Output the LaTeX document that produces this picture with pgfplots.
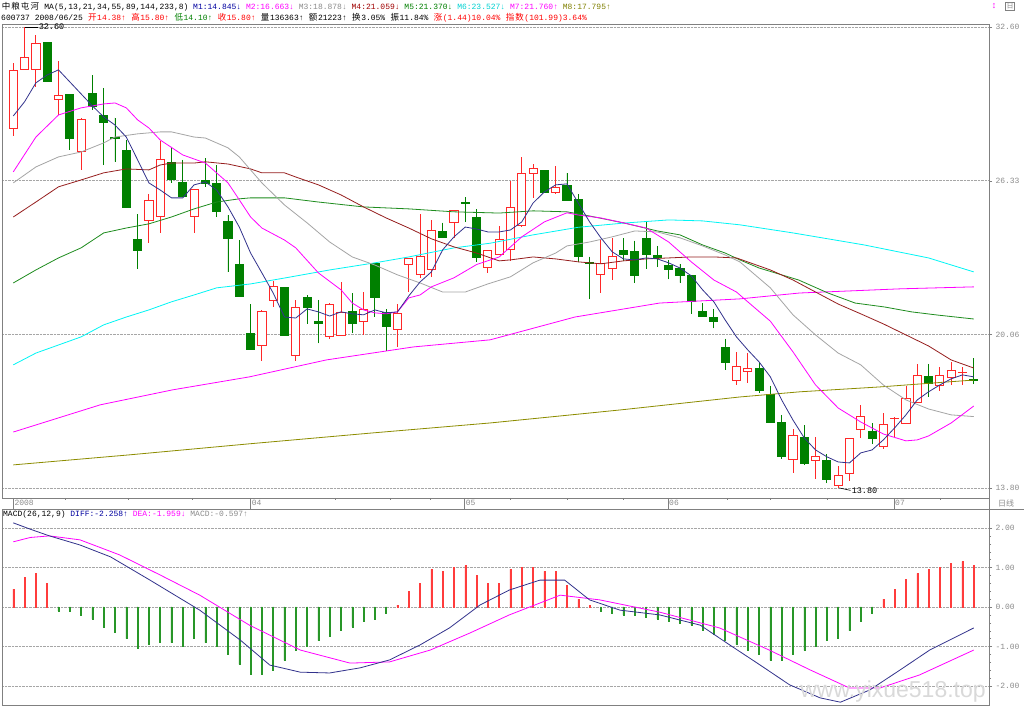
\documentclass[border=0pt]{standalone}
\usepackage{pgfplots}
\pgfplotsset{compat=1.18}
\usepgfplotslibrary{statistics}
\usepackage{pgfplotstable}
\usepackage{fontspec}
\setmainfont{Liberation Sans}
\newfontfamily\cjk{Noto Sans CJK SC}
\newfontfamily\mono{Liberation Mono}
\definecolor{cred}{RGB}{255,40,40}
\definecolor{cgreen}{RGB}{0,128,0}
\definecolor{ma1}{RGB}{50,50,140}
\definecolor{ma2}{RGB}{255,0,255}
\definecolor{ma3}{RGB}{165,165,165}
\definecolor{ma4}{RGB}{150,30,30}
\definecolor{ma5}{RGB}{30,140,30}
\definecolor{ma6}{RGB}{0,245,245}
\definecolor{ma7}{RGB}{255,0,255}
\definecolor{ma8}{RGB}{140,140,0}
\definecolor{tnavy}{RGB}{0,0,160}
\definecolor{tmaroon}{RGB}{160,0,0}
\definecolor{tgreen}{RGB}{0,128,0}
\definecolor{tcyan}{RGB}{0,210,210}
\definecolor{tolive}{RGB}{128,128,0}
\definecolor{tgray}{RGB}{140,140,140}
\definecolor{framegray}{RGB}{128,128,128}
\definecolor{barred}{RGB}{255,60,60}
\definecolor{bargreen}{RGB}{40,150,40}
\newcommand\cu[5]{\addplot[draw=cred, fill=white, line width=0.9pt, boxplot prepared={draw direction=y, draw position=#1, lower whisker=#4, lower quartile=#2, median=#2, upper quartile=#5, upper whisker=#3, box extend=0.72, whisker extend=0}] coordinates {};}
\newcommand\cd[5]{\addplot[draw=cgreen, fill=cgreen, line width=0.9pt, boxplot prepared={draw direction=y, draw position=#1, lower whisker=#4, lower quartile=#5, median=#5, upper quartile=#2, upper whisker=#3, box extend=0.72, whisker extend=0}] coordinates {};}
\newcommand\hf{\mono\fontsize{8}{9}\selectfont}
\newcommand\cj[1]{\makebox[9.6pt]{\cjk\fontsize{8.5}{9}\selectfont #1}}

\pgfplotstableread{
k v
1 28.97
2 29.55
3 30.32
4 30.64
5 30.85
6 30.36
7 29.87
8 29.38
9 28.93
10 28.60
11 28.11
12 27.18
13 26.24
14 25.95
15 25.63
16 25.63
17 26.16
18 26.28
19 25.95
20 25.26
21 24.44
22 23.38
23 22.57
24 21.75
25 20.77
26 20.73
27 21.10
28 20.98
29 20.81
30 20.98
31 20.90
32 20.86
33 21.06
34 20.94
35 20.98
36 21.63
37 22.20
38 22.61
39 23.51
40 24.04
41 24.44
42 24.36
43 24.24
44 24.24
45 24.32
46 24.65
47 25.42
48 25.87
49 26.16
50 26.20
51 25.42
52 24.65
53 24.00
54 23.43
55 23.14
56 23.10
57 23.18
58 23.14
59 22.98
60 22.77
61 22.45
62 21.88
63 21.39
64 20.65
65 19.96
66 19.43
67 18.94
68 18.33
69 17.39
70 16.57
71 15.84
72 15.35
73 15.07
74 14.86
75 14.82
76 15.23
77 15.35
78 15.76
79 16.25
80 16.78
81 17.39
82 17.72
83 18.00
84 18.25
85 18.41
86 18.33
}\maA
\pgfplotstableread{
k v
1 26.69
3 28.11
5 29.01
7 29.30
9 29.46
10 29.50
11 29.30
12 28.81
13 28.48
14 27.99
16 27.38
18 27.05
20 26.24
21 25.55
22 24.85
23 24.40
25 23.91
26 23.59
28 22.57
30 21.88
31 21.34
32 21.06
33 20.94
34 20.90
35 20.98
36 21.55
37 21.67
38 22.00
40 22.37
42 22.91
44 23.22
46 24.04
48 24.65
50 25.02
51 24.93
53 24.81
55 24.61
57 24.40
59 23.83
61 23.02
63 22.28
65 21.79
66 21.39
68 20.60
70 19.35
72 18.00
74 17.06
76 16.49
78 16.00
80 15.72
81 15.76
82 15.92
84 16.45
86 17.14
}\maB
\pgfplotstableread{
k v
1 26.24
3 26.89
5 27.30
7 27.50
9 27.87
10 28.11
12 28.24
14 28.32
15 28.32
17 28.11
18 28.07
20 27.67
21 27.30
22 26.77
23 26.24
25 25.34
27 24.61
29 23.83
31 23.22
33 22.89
35 22.49
37 22.16
39 21.79
41 21.79
43 22.12
45 22.41
47 22.98
49 23.38
50 23.67
52 23.83
54 24.04
56 24.28
58 24.24
60 24.00
62 23.67
64 23.30
65.3 23.02
68 21.96
70 20.86
72 20.04
74 19.30
76 18.82
78 18.00
80 17.39
82 17.02
84 16.78
86 16.71
}\maC
\pgfplotstableread{
k v
1 24.85
3 25.46
5 26.08
7 26.36
9 26.65
11 26.81
13 26.77
14 26.97
15 27.05
17 27.05
18 27.10
20 27.01
22 26.81
23 26.65
25 26.65
26 26.48
28 26.16
30 25.75
32 25.26
34 24.81
36 24.40
38 23.96
40 23.63
42 23.38
44 23.06
45 23.10
47 23.22
49 23.14
51 23.02
53 22.94
55 23.06
57 23.14
59 23.18
61 23.22
63 23.22
65 23.18
68 22.69
70 22.28
72 21.79
74 21.30
76 20.90
78 20.49
80 20.04
82 19.59
84 19.02
86 18.69
}\maD
\pgfplotstableread{
k v
1 22.16
3 22.69
5 23.18
7 23.59
9 24.20
11 24.40
13 24.57
15 24.85
17 25.18
19 25.46
21 25.59
22 25.63
25 25.63
28 25.46
32 25.26
36 25.18
40 25.06
44 25.01
47 25.10
50 25.06
52 24.89
55 24.61
58 24.28
60 24.12
62 23.71
64 23.38
65.3 23.10
67 22.77
70.5 22.28
73.1 21.75
75.5 21.34
78.1 21.18
80.5 20.98
82.8 20.85
86 20.69
}\maE
\pgfplotstableread{
k v
1 18.82
3 19.30
5 19.63
7 19.96
9 20.45
11 20.77
13 21.06
15 21.39
17 21.67
19 21.96
22 22.12
25 22.36
29 22.69
33 22.98
36 23.22
40 23.59
43.2 23.78
47 24.12
51 24.43
55 24.60
59 24.73
62 24.69
65.3 24.53
70 24.20
76.3 23.71
82 23.18
86 22.61
}\maF
\pgfplotstableread{
k v
1 16.08
8.7 17.19
15.1 17.80
21.9 18.33
28.7 19.02
36.4 19.55
43.2 19.84
50.7 20.77
58.2 21.34
65.3 21.51
70.6 21.75
79.5 21.92
86 22.00
}\maG
\pgfplotstableread{
k v
1 14.74
11.3 15.15
21.9 15.60
32.7 16.04
43.2 16.45
54.7 16.98
65.3 17.51
70.6 17.72
77.7 17.92
82.4 18.08
86 18.20
}\maH
\pgfplotstableread{
k v
1 2.13
2.5 1.97
4.2 1.80
6.9 1.57
9.6 1.27
13.1 0.68
17.5 -0.08
21.1 -0.84
23.7 -1.47
26.4 -1.65
29 -1.67
31.7 -1.54
34.3 -1.34
37 -0.96
39.6 -0.53
42.3 0.05
44.9 0.43
47.6 0.68
49.8 0.68
52 0.18
54.7 -0.08
58.2 -0.20
61.8 -0.46
64.4 -0.96
67.1 -1.47
69.7 -1.97
72.4 -2.30
74.2 -2.41
76.8 -2.10
79.5 -1.59
82.1 -1.09
86 -0.53
}\diff
\pgfplotstableread{
k v
1 1.65
2.5 1.76
4.2 1.80
6.9 1.70
10.4 1.32
14 0.81
17.5 0.30
21.9 -0.46
26.4 -1.09
30.8 -1.42
34.3 -1.39
37.9 -1.09
41.4 -0.66
44.9 -0.20
49.4 0.30
52.9 0.18
58.2 -0.13
63.5 -0.53
67.9 -1.09
71.5 -1.59
75 -2.05
77.7 -2.05
81.2 -1.72
86 -1.09
}\dea
\pgfplotstableread{
k v
1 0.45
2 0.75
3 0.85
4 0.60
35 0.05
36 0.40
37 0.60
38 0.95
39 0.90
40 1.00
41 1.05
42 0.80
43 0.60
44 0.60
45 0.95
46 1.00
47 1.00
48 0.90
49 0.90
50 0.55
51 0.20
52 0.05
78 0.20
79 0.45
80 0.70
81 0.85
82 0.95
83 1.00
84 1.10
85 1.15
86 1.05
}\macdpos
\pgfplotstableread{
k v
5 -0.10
6 -0.10
7 -0.20
8 -0.30
9 -0.50
10 -0.65
11 -0.80
12 -1.05
13 -0.95
14 -0.90
15 -0.90
16 -1.00
17 -0.80
18 -0.90
19 -1.00
20 -1.20
21 -1.45
22 -1.70
23 -1.70
24 -1.60
25 -1.35
26 -1.10
27 -1.00
28 -0.85
29 -0.75
30 -0.60
31 -0.50
32 -0.35
33 -0.30
34 -0.15
53 -0.10
54 -0.15
55 -0.20
56 -0.20
57 -0.25
58 -0.30
59 -0.35
60 -0.40
61 -0.45
62 -0.60
63 -0.70
64 -0.85
65 -0.95
66 -1.10
67 -1.20
68 -1.35
69 -1.35
70 -1.20
71 -1.10
72 -1.00
73 -0.85
74 -0.80
75 -0.60
76 -0.35
77 -0.15
}\macdneg

\begin{document}
\begin{tikzpicture}[x=1pt,y=1pt]
\useasboundingbox (0,0) rectangle (1024,706);
\fill[white] (0,0) rectangle (1024,706);

% ===== main price panel =====
\begin{axis}[
  at={(2pt,208pt)}, anchor=south west,
  width=987pt, height=474pt, scale only axis,
  xmin=0, xmax=87.35, ymin=13.39, ymax=32.72,
  axis line style={framegray},
  xtick=\empty,
  ytick={13.80,20.06,26.33,32.60},
  yticklabels={13.80,20.06,26.33,32.60},
  minor y tick num=3,
  ytick pos=right, yticklabel pos=right,
  tick align=outside, major tick length=3pt, minor tick length=2pt,
  tick style={framegray},
  yticklabel style={font=\mono\fontsize{8}{8}\selectfont, text=tgray},
  ymajorgrids, major grid style={densely dotted, framegray!70},
  clip mode=individual,
]
\cu{1}{28.44}{31.12}{28.17}{30.82}
\cu{2}{30.88}{32.60}{30.88}{31.35}
\cu{3}{30.88}{32.27}{30.17}{31.94}
\cd{4}{31.98}{31.98}{30.36}{30.36}
\cu{5}{29.65}{31.21}{29.01}{29.82}
\cd{6}{29.86}{29.86}{27.59}{28.05}
\cu{7}{27.53}{28.89}{26.77}{28.84}
\cd{8}{29.87}{30.62}{29.22}{29.35}
\cd{9}{28.97}{30.11}{26.96}{28.70}
\cd{10}{28.10}{28.90}{27.11}{28.05}
\cd{11}{27.58}{27.99}{25.25}{25.25}
\cd{12}{23.95}{24.96}{22.73}{23.48}
\cu{13}{24.69}{25.79}{23.78}{25.53}
\cu{14}{24.86}{27.96}{24.19}{27.20}
\cd{15}{27.09}{27.72}{26.25}{26.39}
\cd{16}{26.27}{27.18}{25.68}{25.68}
\cu{17}{24.89}{25.99}{24.19}{25.99}
\cd{18}{26.32}{27.25}{26.09}{26.23}
\cd{19}{26.20}{26.96}{24.84}{25.07}
\cd{20}{24.68}{24.93}{22.60}{23.97}
\cd{21}{22.91}{23.91}{21.59}{21.59}
\cd{22}{20.08}{21.29}{19.43}{19.43}
\cu{23}{19.62}{21.05}{18.99}{20.98}
\cu{24}{21.44}{22.24}{21.19}{22.01}
\cd{25}{21.96}{21.96}{20.03}{20.03}
\cu{26}{19.22}{21.47}{18.99}{21.17}
\cd{27}{21.56}{21.66}{20.49}{21.15}
\cd{28}{20.58}{21.47}{19.70}{20.50}
\cu{29}{19.97}{21.36}{19.88}{21.30}
\cu{30}{20.00}{22.19}{20.00}{20.94}
\cd{31}{20.98}{21.74}{20.11}{20.49}
\cu{32}{20.58}{21.79}{20.03}{21.07}
\cd{33}{22.94}{22.94}{20.79}{21.56}
\cd{34}{20.97}{21.09}{19.40}{20.38}
\cu{35}{20.27}{21.30}{19.56}{20.90}
\cu{36}{22.92}{23.17}{21.81}{23.17}
\cu{37}{22.52}{24.97}{22.35}{23.26}
\cu{38}{22.72}{24.73}{22.42}{24.29}
\cd{39}{24.27}{24.62}{24.01}{24.01}
\cu{40}{24.64}{25.11}{23.98}{25.11}
\cd{41}{25.46}{25.66}{24.64}{25.41}
\cd{42}{24.84}{25.17}{23.03}{23.18}
\cu{43}{22.81}{23.48}{22.56}{23.48}
\cu{44}{23.33}{24.49}{23.33}{23.94}
\cu{45}{23.51}{26.33}{23.07}{25.25}
\cu{46}{24.49}{27.29}{24.43}{26.63}
\cu{47}{26.62}{27.00}{25.61}{26.82}
\cd{48}{26.76}{26.76}{25.86}{25.86}
\cu{49}{25.86}{26.94}{25.78}{26.05}
\cd{50}{26.12}{26.64}{25.52}{25.52}
\cd{51}{25.57}{25.78}{23.00}{23.26}
\cd{52}{22.99}{23.23}{21.50}{22.97}
\cu{53}{22.52}{23.91}{21.76}{22.96}
\cu{54}{22.77}{23.98}{22.28}{23.25}
\cd{55}{23.47}{23.98}{23.07}{23.34}
\cd{56}{23.43}{23.89}{22.17}{22.47}
\cd{57}{23.98}{24.70}{22.73}{23.31}
\cd{58}{23.30}{23.67}{22.80}{23.21}
\cd{59}{22.88}{23.10}{22.31}{22.70}
\cd{60}{22.74}{22.94}{22.17}{22.47}
\cd{61}{22.46}{22.46}{20.90}{21.39}
\cd{62}{21.01}{21.33}{20.81}{20.81}
\cd{63}{20.75}{21.10}{20.31}{20.58}
\cd{64}{19.54}{19.89}{18.61}{18.91}
\cu{65}{18.20}{19.33}{18.00}{18.75}
\cu{66}{18.57}{19.29}{18.07}{18.69}
\cd{67}{18.69}{18.95}{17.69}{17.77}
\cd{68}{17.62}{17.97}{16.49}{16.49}
\cd{69}{16.48}{16.78}{15.00}{15.08}
\cu{70}{14.97}{16.21}{14.42}{15.95}
\cd{71}{15.87}{16.36}{14.74}{14.81}
\cu{72}{14.91}{15.88}{14.15}{15.08}
\cd{73}{14.91}{15.19}{14.00}{14.13}
\cu{74}{13.91}{14.69}{13.80}{14.30}
\cu{75}{14.38}{15.80}{14.10}{15.80}
\cu{76}{16.17}{17.17}{15.83}{16.71}
\cd{77}{16.09}{16.44}{15.59}{15.81}
\cu{78}{15.49}{16.87}{15.38}{16.38}
\cu{79}{16.63}{16.70}{15.89}{16.65}
\cu{80}{16.44}{17.96}{16.44}{17.46}
\cu{81}{17.29}{18.84}{17.29}{18.40}
\cd{82}{18.33}{18.86}{17.52}{18.07}
\cu{83}{17.99}{18.72}{17.77}{18.40}
\cu{84}{18.31}{18.95}{18.00}{18.59}
\cu{85}{18.52}{18.72}{18.00}{18.53}
\cd{86}{18.23}{19.09}{18.03}{18.20}
% moving averages
\addplot[ma8, line width=0.8pt] table[x=k,y=v] {\maH};
\addplot[ma7, line width=0.8pt] table[x=k,y=v] {\maG};
\addplot[ma6, line width=0.8pt] table[x=k,y=v] {\maF};
\addplot[ma5, line width=0.8pt] table[x=k,y=v] {\maE};
\addplot[ma4, line width=0.8pt] table[x=k,y=v] {\maD};
\addplot[ma3, line width=0.8pt] table[x=k,y=v] {\maC};
\addplot[ma2, line width=0.8pt] table[x=k,y=v] {\maB};
\addplot[ma1, line width=0.8pt] table[x=k,y=v] {\maA};
% high / low annotations
\draw[black, line width=0.6pt] (axis cs:2,32.60) -- (axis cs:3.15,32.60);
\node[anchor=west, inner sep=1pt, font=\mono\fontsize{8.5}{9}\selectfont] at (axis cs:3.15,32.60) {32.60};
\draw[black, line width=0.6pt] (axis cs:74.1,13.80) -- (axis cs:75.1,13.70);
\node[anchor=west, inner sep=1pt, font=\mono\fontsize{8.5}{9}\selectfont] at (axis cs:75.1,13.70) {13.80};
\end{axis}

% ===== MACD panel =====
\begin{axis}[
  at={(2pt,1pt)}, anchor=south west,
  width=987pt, height=196pt, scale only axis,
  xmin=0, xmax=87.35, ymin=-2.481, ymax=2.481,
  axis line style={framegray},
  xtick=\empty,
  ytick={-2,-1,0,1,2},
  yticklabels={-2.00,-1.00,0.00,1.00,2.00},
  minor y tick num=4,
  ytick pos=right, yticklabel pos=right,
  tick align=outside, major tick length=3pt, minor tick length=2pt,
  tick style={framegray},
  yticklabel style={font=\mono\fontsize{8}{8}\selectfont, text=tgray},
  ymajorgrids, major grid style={densely dotted, framegray!70},
]
\addplot[ybar, bar width=1pt, bar shift=0pt, draw=barred, fill=barred] table[x=k,y=v] {\macdpos};
\addplot[ybar, bar width=1pt, bar shift=0pt, draw=bargreen, fill=bargreen] table[x=k,y=v] {\macdneg};
\addplot[ma7, line width=0.8pt] table[x=k,y=v] {\dea};
\addplot[ma1, line width=0.8pt] table[x=k,y=v] {\diff};
\end{axis}

% ===== header texts =====
\node[anchor=west, inner sep=0pt, font=\hf] at (1,699.5) {\cj{中}\cj{粮}\cj{屯}\cj{河} MA(5,13,21,34,55,89,144,233,8) \textcolor{tnavy}{M1:14.845↓} \textcolor{ma2}{M2:16.663↓} \textcolor{tgray}{M3:18.878↓} \textcolor{tmaroon}{M4:21.059↓} \textcolor{tgreen}{M5:21.370↓} \textcolor{tcyan}{M6:23.527↓} \textcolor{ma2}{M7:21.760↑} \textcolor{tolive}{M8:17.795↑}};
\node[anchor=west, inner sep=0pt, font=\hf] at (1,688.5) {600737 2008/06/25 \textcolor{red}{\cj{开}14.38↑} \textcolor{red}{\cj{高}15.80↑} \textcolor{tgreen}{\cj{低}14.10↑} \textcolor{red}{\cj{收}15.80↑} \cj{量}136363↑ \cj{额}21223↑ \cj{换}3.05\% \cj{振}11.84\% \textcolor{red}{\cj{涨}(1.44)10.04\% \cj{指}\cj{数}(101.99)3.64\%}};
\node[anchor=west, inner sep=0pt, font=\hf] at (3,191.5) {MACD(26,12,9) \textcolor{tnavy}{DIFF:-2.258↑} \textcolor{ma2}{DEA:-1.959↓} \textcolor{tgray}{MACD:-0.597↑}};

% ===== date row =====
\draw[framegray] (2,197) -- (1024,197);
\draw[framegray] (989,197) -- (989,208);
\foreach \px/\lab in {13.3/2008, 250.6/04, 464.6/05, 668/06, 894/07}{
  \draw[framegray] (\px,208) -- (\px,197);
  \node[anchor=west, inner sep=1pt, text=tgray, font=\mono\fontsize{8}{8}\selectfont] at (\px,203) {\lab};
}
\foreach \px in {65,128,192,335,390,430,510,567,623,727,770,827,940}{
  \draw[framegray] (\px,208) -- (\px,205.5);
}
\node[text=tgray, font=\cjk\fontsize{8}{8}\selectfont, inner sep=0pt] at (1006,203) {日线};
\node[text=ma2, font=\mono\fontsize{9}{9}\selectfont, inner sep=0pt] at (994,700) {↕};
\node[draw=framegray, text=tgray, font=\cjk\fontsize{7}{7}\selectfont, inner sep=1pt] at (1010,700) {日};
% watermark
\node[text=gray!30, font=\fontsize{23}{23}\selectfont, inner sep=0pt] at (893,14) {www.yixue518.top};
\end{tikzpicture}
\end{document}
